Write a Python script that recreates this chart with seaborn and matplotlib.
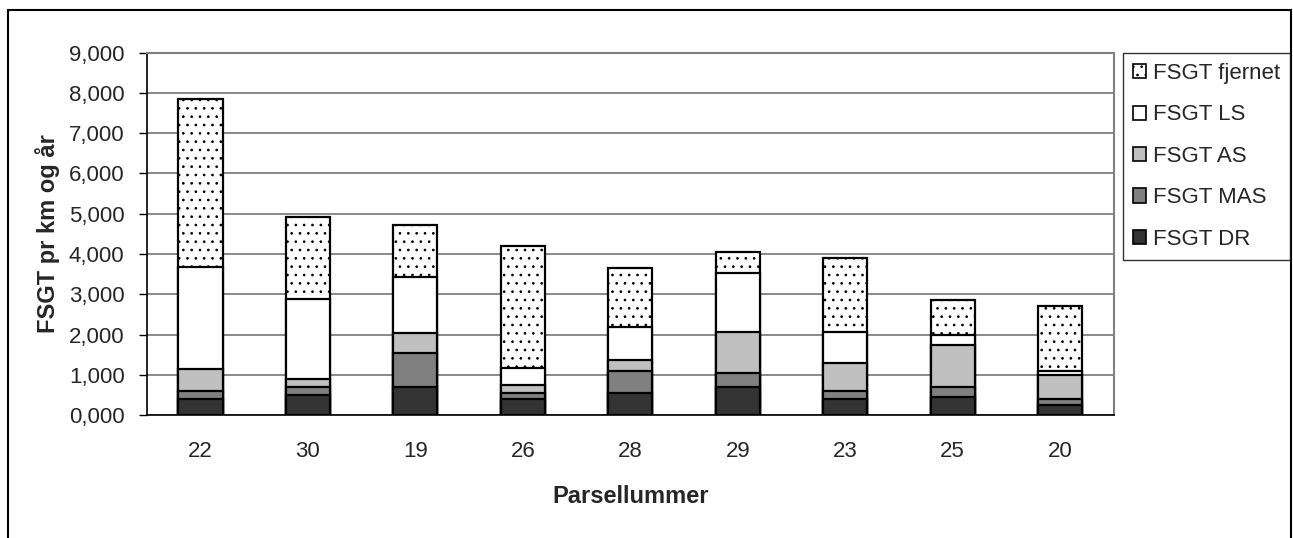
import numpy as np
import pandas as pd
import matplotlib
matplotlib.use("Agg")
import matplotlib.pyplot as plt
from matplotlib.patches import Patch, Rectangle
from matplotlib.ticker import FuncFormatter, FixedLocator
import seaborn as sns

# Data (component values, stacked bottom -> top)
parceller = ["22", "30", "19", "26", "28", "29", "23", "25", "20"]
fsgt_dr = [0.40, 0.50, 0.69, 0.40, 0.54, 0.69, 0.41, 0.44, 0.24]
fsgt_mas = [0.20, 0.20, 0.84, 0.14, 0.56, 0.36, 0.19, 0.25, 0.17]
fsgt_as = [0.55, 0.20, 0.50, 0.21, 0.26, 1.00, 0.70, 1.05, 0.58]
fsgt_ls = [2.53, 1.98, 1.41, 0.43, 0.83, 1.49, 0.75, 0.25, 0.11]
fsgt_fjernet = [4.18, 2.05, 1.28, 3.01, 1.46, 0.50, 1.85, 0.86, 1.61]

series_names = ["FSGT DR", "FSGT MAS", "FSGT AS", "FSGT LS", "FSGT fjernet"]
series_vals = [fsgt_dr, fsgt_mas, fsgt_as, fsgt_ls, fsgt_fjernet]
colors = ["#333333", "#808080", "#c0c0c0", "#ffffff", "#ffffff"]
hatches = [None, None, None, None, ".."]

cum = np.cumsum(np.array(series_vals), axis=0)

sns.set_style("white")
plt.rcParams["font.family"] = ["Liberation Sans", "DejaVu Sans"]
plt.rcParams["hatch.color"] = "#8a8a8a"
plt.rcParams["hatch.linewidth"] = 0.7

fig = plt.figure(figsize=(12.93, 5.38), dpi=100)
ax = fig.add_axes([0.1135, 0.2286, 0.748, 0.6734])

# draw cumulative totals from top layer down so each covers the one above
for i in range(len(series_names) - 1, -1, -1):
    df = pd.DataFrame({"parsel": parceller, "val": cum[i]})
    sns.barplot(data=df, x="parsel", y="val", order=parceller, ax=ax,
                color=colors[i], edgecolor="black", linewidth=1.6,
                width=0.41, errorbar=None, saturation=1,
                hatch=hatches[i])

ax.set_ylim(0, 9)
ax.set_xlim(-0.5, len(parceller) - 0.5)
ax.set_yticks(np.arange(0, 10, 1))
ax.yaxis.set_major_formatter(FuncFormatter(lambda v, p: f"{v:.3f}".replace(".", ",")))
ax.yaxis.grid(True, color="#6a6a6a", linewidth=1.1)
ax.set_axisbelow(True)

# tick marks between categories, labels without marks
ax.xaxis.set_minor_locator(FixedLocator(np.arange(-0.5, len(parceller), 1)))
ax.tick_params(axis="x", which="major", length=0, labelsize=16, pad=19)
ax.tick_params(axis="x", which="minor", length=6, width=1, color="black", direction="out")
ax.tick_params(axis="y", length=6, width=1, color="black", direction="out",
               labelsize=16, pad=10, left=True)

for s in ["left", "bottom"]:
    ax.spines[s].set_color("black")
    ax.spines[s].set_linewidth(1.2)
for s in ["top", "right"]:
    ax.spines[s].set_color("#808080")
    ax.spines[s].set_linewidth(1.5)

ax.set_xlabel("Parsellummer", fontsize=17, fontweight="bold", labelpad=16)
ax.set_ylabel("FSGT pr km og år", fontsize=17, fontweight="bold", labelpad=6)

handles = [Patch(facecolor=colors[i], edgecolor="black", hatch=hatches[i], linewidth=1.2)
           for i in range(len(series_names) - 1, -1, -1)]
labels = series_names[::-1]
leg = fig.legend(handles, labels, loc="upper left",
                 bbox_to_anchor=(0.8685, 0.9015), frameon=True, fancybox=False,
                 fontsize=16, handlelength=0.6, handleheight=0.6, handletextpad=0.3,
                 labelspacing=0.92, borderpad=0.45, borderaxespad=0)
leg.get_frame().set_edgecolor("black")
leg.get_frame().set_linewidth(1.0)

# outer chart border
fig.patches.append(Rectangle((8 / 1293, -0.05), 1283 / 1293, 1.05 - 10 / 538,
                             transform=fig.transFigure, fill=False,
                             edgecolor="black", linewidth=1.5))

fig.savefig("out.png", dpi=100)
